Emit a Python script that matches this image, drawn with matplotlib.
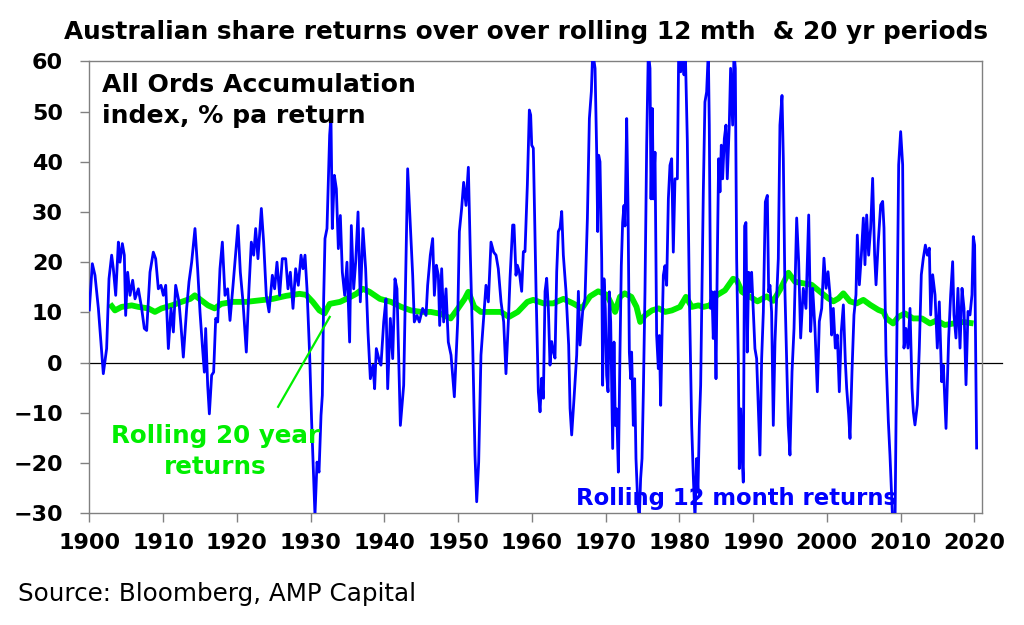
import matplotlib
matplotlib.use("Agg")
import matplotlib.pyplot as plt
import numpy as np

plt.rcParams['font.family'] = ['DejaVu Sans']

# ---------------- Data ----------------
# Rolling 12 month returns (% pa), grouped by period
m12_years_a = [1900.0, 1900.41, 1900.77, 1901.23, 1901.90, 1902.35, 1902.67, 1903.03, 1903.26, 1903.58,
               1903.94, 1904.16, 1904.48, 1904.75, 1904.93, 1905.20, 1905.52, 1905.88, 1906.20, 1906.65,
               1907.10, 1907.46, 1907.78, 1908.23, 1908.68, 1909.00, 1909.36, 1909.72, 1910.04, 1910.36,
               1910.72, 1911.08, 1911.40, 1911.71, 1912.16, 1912.43, 1912.75, 1913.20, 1913.52, 1913.88,
               1914.33, 1914.69, 1915.01, 1915.33, 1915.60, 1915.78, 1916.05, 1916.28, 1916.59, 1916.86,
               1917.14, 1917.41, 1917.72, 1918.04, 1918.40, 1918.76, 1919.08]
m12_vals_a = [10.5, 19.7, 17.4, 10.8, -2.2, 2.8, 16.7, 21.4, 18.7, 13.4,
              24.0, 20.0, 23.7, 21.4, 9.4, 18.0, 13.4, 16.4, 12.7, 14.7,
              10.8, 6.8, 6.4, 18.0, 22.0, 20.7, 14.7, 15.4, 13.4, 15.4,
              2.8, 10.8, 6.1, 15.4, 12.1, 7.4, 1.1, 10.8, 16.1, 20.0,
              26.7, 18.7, 10.1, 3.4, -1.9, 6.8, -4.5, -10.2, -2.5, -1.9,
              8.8, 8.1, 18.7, 24.0, 13.4, 14.7, 8.4]

m12_years_b = [1919.49, 1920.16, 1920.48, 1920.84, 1921.29, 1921.65, 1921.97, 1922.29, 1922.56, 1922.87,
               1923.33, 1923.64, 1924.00, 1924.37, 1924.82, 1925.13, 1925.45, 1925.81, 1926.17, 1926.63,
               1926.94, 1927.26, 1927.62, 1927.98, 1928.34, 1928.71, 1928.98, 1929.25, 1929.52, 1929.88,
               1930.15, 1930.42, 1930.60, 1930.88, 1931.15, 1931.42, 1931.60, 1931.78, 1931.96, 1932.23,
               1932.59, 1932.77, 1932.95, 1933.23, 1933.50, 1933.77, 1934.04, 1934.31, 1934.63, 1934.94,
               1935.30, 1935.53, 1935.85, 1936.12, 1936.44, 1936.75, 1937.11, 1937.47, 1937.79, 1938.11,
               1938.47, 1938.69, 1938.92, 1939.37]
m12_vals_b = [15.4, 27.3, 18.0, 12.1, 2.1, 14.7, 24.0, 21.4, 26.7, 20.7,
              30.7, 24.0, 13.4, 10.1, 17.4, 14.7, 20.0, 13.4, 20.7, 20.7,
              14.7, 18.0, 10.8, 18.7, 15.4, 21.4, 18.7, 21.4, 14.7, 1.5,
              -11.8, -23.1, -30.4, -19.8, -21.8, -10.5, -6.5, 12.7, 24.7, 26.7,
              45.3, 48.9, 26.7, 37.3, 34.6, 22.7, 29.3, 18.0, 13.4, 20.0,
              4.1, 27.3, 14.7, 20.0, 30.0, 12.1, 26.7, 18.7, 6.1, -3.2,
              -0.5, -5.2, 2.8, 0.1]

m12_years_c = [1939.55, 1939.92, 1940.23, 1940.46, 1940.82, 1941.14, 1941.45, 1941.72, 1942.18, 1942.63,
               1943.17, 1943.44, 1943.85, 1944.07, 1944.44, 1944.75, 1945.20, 1945.66, 1945.88, 1946.24,
               1946.56, 1946.79, 1947.06, 1947.33, 1947.51, 1947.78, 1948.05, 1948.37, 1948.68, 1949.05,
               1949.50, 1949.95, 1950.18, 1950.49, 1950.76, 1951.08, 1951.40, 1951.67, 1951.98, 1952.30,
               1952.53, 1952.80, 1953.11, 1953.47, 1953.79, 1954.11, 1954.47, 1954.83, 1955.15, 1955.46,
               1955.83, 1956.19, 1956.50, 1956.82]
m12_vals_c = [-0.5, 8.1, 12.7, -5.2, 8.8, 0.8, 16.7, 14.7, -12.5, -4.5,
              38.6, 30.0, 17.4, 8.1, 9.4, 8.1, 10.8, 9.4, 15.4, 21.4,
              24.7, 13.4, 19.4, 17.4, 7.4, 18.7, 8.1, 14.7, 4.1, 1.5,
              -6.8, 8.1, 26.1, 30.7, 35.9, 31.3, 38.9, 21.4, 4.1, -18.4,
              -27.7, -19.8, 1.5, 8.8, 15.4, 12.1, 24.0, 22.0, 21.4, 18.7,
              12.1, 8.1, -2.2, 8.1]

m12_years_d = [1957.05, 1957.41, 1957.59, 1957.86, 1958.04, 1958.31, 1958.63, 1958.86, 1959.08, 1959.40,
               1959.67, 1959.85, 1959.99, 1960.21, 1960.58, 1960.89, 1961.12, 1961.34, 1961.57, 1961.80,
               1962.02, 1962.25, 1962.47, 1962.70, 1962.93, 1963.15, 1963.38, 1963.60, 1963.83, 1964.06,
               1964.28, 1964.64, 1965.00, 1965.19, 1965.41, 1965.73, 1966.09, 1966.32, 1966.54, 1966.90,
               1967.22, 1967.54, 1967.81, 1968.08, 1968.26, 1968.58, 1968.80, 1968.94, 1969.07]
m12_vals_d = [16.8, 27.4, 27.4, 17.4, 19.4, 18.1, 14.2, 22.1, 22.1, 35.4,
              50.3, 49.3, 43.3, 42.7, 14.2, -5.8, -9.8, -3.1, -7.1, 14.2,
              16.8, 10.8, -0.5, 4.2, 2.2, 0.9, 18.1, 26.1, 26.8, 30.1,
              21.4, 14.2, 3.5, -9.1, -14.4, -7.1, 1.5, 14.2, 3.5, 10.2,
              12.8, 28.7, 48.6, 54.0, 62.0, 58.6, 42.0, 26.1, 41.3]

m12_years_e = [1969.25, 1969.48, 1969.61, 1969.79, 1969.97, 1970.15, 1970.34, 1970.52, 1970.70, 1970.97,
               1971.15, 1971.33, 1971.51, 1971.74, 1971.96, 1972.14, 1972.32, 1972.50, 1972.64, 1972.87,
               1973.05, 1973.23, 1973.41, 1973.54, 1973.77, 1973.95, 1974.13, 1974.36, 1974.58, 1974.76,
               1974.95, 1975.13, 1975.35, 1975.58, 1975.80, 1976.03, 1976.17, 1976.35, 1976.48, 1976.71,
               1976.93, 1977.16, 1977.30, 1977.48, 1977.66, 1977.84, 1978.06, 1978.29, 1978.52, 1978.74,
               1978.97, 1979.19, 1979.42, 1979.74, 1979.92, 1980.19, 1980.46, 1980.64, 1980.82, 1981.09,
               1981.36]
m12_vals_e = [40.0, 20.7, -4.5, 16.7, 10.8, -2.5, -5.8, 14.1, 8.1, -17.1,
              4.1, -12.5, -9.2, -21.8, 2.1, 19.3, 27.9, 31.3, 27.2, 48.6,
              31.3, 2.1, -3.2, 2.1, -12.5, -3.2, -19.1, -27.7, -31.0, -23.1,
              -19.1, -5.8, 14.1, 43.3, 62.0, 58.6, 32.6, 50.6, 32.6, 41.9,
              5.5, -1.2, 5.4, -8.5, 5.4, 17.4, 19.3, 15.4, 32.6, 39.3,
              40.6, 22.0, 36.6, 36.6, 62.0, 57.9, 62.0, 57.3, 62.0, 44.3,
              14.1]

m12_years_f = [1981.68, 1981.90, 1982.13, 1982.35, 1982.53, 1982.72, 1982.90, 1983.08, 1983.26, 1983.48,
               1983.71, 1983.94, 1984.07, 1984.25, 1984.43, 1984.61, 1984.80, 1984.98, 1985.16, 1985.34,
               1985.52, 1985.70, 1985.88, 1986.11, 1986.33, 1986.51, 1986.78, 1986.96, 1987.24, 1987.42,
               1987.60, 1987.78, 1988.00, 1988.14, 1988.32, 1988.50, 1988.68, 1988.86, 1989.04, 1989.22,
               1989.41, 1989.59, 1989.81, 1990.04, 1990.26, 1990.49, 1990.72, 1990.94, 1991.17, 1991.40,
               1991.67, 1991.94, 1992.12, 1992.30, 1992.52, 1992.75, 1992.98, 1993.20, 1993.43, 1993.65,
               1993.93, 1994.11, 1994.33, 1994.56, 1994.78]
m12_vals_f = [-12.5, -22.5, -31.1, -19.1, -25.8, -12.5, -4.5, 14.1, 34.0, 51.9,
              53.9, 62.0, 47.3, 10.8, 14.1, 4.8, 14.1, -3.2, 20.7, 40.6,
              34.0, 43.3, 36.6, 44.6, 47.3, 36.6, 47.3, 58.6, 47.3, 62.0,
              58.6, 20.7, 0.8, -21.1, -9.2, -17.8, -23.8, 27.2, 27.9, 2.1,
              18.0, 14.1, 18.0, 10.1, 2.8, 0.8, -9.2, -18.4, 0.8, 10.1,
              32.0, 33.3, 14.1, 15.4, 10.1, -12.5, 4.1, 12.8, 20.7, 47.3,
              53.2, 40.6, 14.1, 0.8, -12.5]

m12_years_g = [1995.01, 1995.29, 1995.56, 1995.92, 1996.19, 1996.46, 1996.82, 1997.18, 1997.55, 1997.82,
               1998.09, 1998.40, 1998.72, 1998.99, 1999.31, 1999.62, 1999.90, 2000.17, 2000.44, 2000.66,
               2000.89, 2001.16, 2001.43, 2001.70, 2001.97, 2002.25, 2002.52, 2002.70, 2002.97, 2003.15,
               2003.42, 2003.69, 2003.96, 2004.14, 2004.42, 2004.69, 2004.96, 2005.18, 2005.41, 2005.68,
               2005.95, 2006.22, 2006.49, 2006.68, 2006.99, 2007.31, 2007.58, 2007.76, 2008.03, 2008.35,
               2008.57, 2008.94, 2009.25, 2009.48, 2009.75, 2010.02, 2010.29, 2010.47, 2010.74, 2011.01,
               2011.29, 2011.56, 2011.74, 2011.96, 2012.28, 2012.55, 2012.82, 2013.09, 2013.37, 2013.64,
               2013.91, 2014.09, 2014.36, 2014.68, 2014.99, 2015.26, 2015.58, 2015.81, 2016.17, 2016.53,
               2016.80, 2017.07, 2017.25, 2017.52, 2017.79, 2018.07, 2018.34, 2018.61, 2018.88, 2019.15,
               2019.42, 2019.69, 2019.87, 2020.05, 2020.32]
m12_vals_g = [-18.4, -1.8, 6.8, 28.8, 20.1, 4.9, 14.8, 10.8, 29.4, 6.2,
              14.8, 6.8, -5.8, 8.2, 10.8, 20.8, 14.8, 18.1, 13.5, 5.5,
              10.8, 2.9, 5.5, -5.8, 6.2, 11.5, 0.2, -5.1, -10.4, -15.1,
              -1.8, 9.5, 13.5, 25.4, 15.5, 21.4, 28.8, 19.5, 29.4, 21.4,
              26.8, 36.7, 21.4, 15.5, 24.1, 31.4, 32.1, 26.8, 1.5, -11.7,
              -18.4, -31.7, -33.0, 1.5, 39.4, 46.0, 39.4, 2.9, 6.8, 2.9,
              10.8, -5.1, -9.8, -12.4, -8.4, 2.9, 17.5, 20.8, 23.4, 21.4,
              22.8, 9.5, 17.5, 13.5, 2.9, 12.1, -3.8, -0.5, -13.1, 4.9,
              13.5, 20.1, 9.5, 4.9, 14.8, 2.9, 14.8, 10.8, -4.4, 10.2,
              9.5, 13.5, 25.1, 23.4, -17.0]

# Rolling 20 year returns (% pa)
y20_years = [1902.81, 1903.48, 1904.39, 1905.75, 1906.65, 1908.0, 1908.9, 1909.8, 1911.2, 1912.5,
             1913.7, 1914.3, 1915.2, 1916.1, 1917.0, 1917.9, 1919.5, 1921.3, 1923.1, 1924.9,
             1926.7, 1928.5, 1929.4, 1930.3, 1931.2, 1931.9, 1932.6, 1934.0, 1935.3, 1936.2,
             1937.1, 1938.0, 1939.4, 1940.9, 1942.3, 1943.6, 1945.0, 1946.3, 1947.7, 1949.0,
             1950.0, 1950.9, 1951.4, 1952.2, 1953.1, 1954.5, 1955.8, 1956.9, 1958.1, 1959.4,
             1960.2, 1961.6, 1962.9, 1964.3, 1965.6, 1966.8, 1967.9, 1969.0, 1970.2, 1971.3,
             1971.96, 1972.6, 1973.5, 1974.2, 1974.7, 1975.35, 1976.3, 1977.2, 1978.1, 1979.0,
             1980.1, 1980.9, 1981.7, 1982.6, 1983.26, 1984.16, 1985.07, 1986.2, 1987.3, 1987.8,
             1988.5, 1989.6, 1990.6, 1991.85, 1992.75, 1993.66, 1994.8, 1995.7, 1996.8, 1997.95,
             1999.1, 2000.2, 2000.9, 2001.6, 2002.25, 2003.15, 2004.05, 2004.96, 2005.9, 2007.0,
             2007.7, 2008.1, 2009.0, 2009.7, 2010.6, 2011.7, 2012.9, 2014.0, 2014.9, 2016.0,
             2017.2, 2018.5, 2019.9]
y20_vals = [11.7, 10.4, 11.1, 11.4, 11.1, 10.8, 10.1, 10.8, 11.4, 12.1,
            12.7, 13.4, 12.4, 11.4, 10.8, 11.7, 12.1, 12.1, 12.4, 12.7,
            13.3, 13.7, 13.5, 12.1, 10.4, 9.8, 11.7, 12.1, 13.0, 13.7,
            14.7, 14.1, 12.7, 12.1, 11.1, 10.4, 10.1, 10.1, 9.7, 8.8,
            10.8, 12.7, 14.1, 11.1, 10.1, 10.1, 10.1, 9.1, 10.1, 12.1,
            12.5, 11.8, 11.8, 12.7, 11.8, 10.8, 13.2, 14.2, 13.5, 10.1,
            13.1, 13.8, 13.1, 11.1, 8.1, 9.4, 10.4, 10.8, 10.1, 10.4,
            11.1, 13.1, 11.1, 11.4, 11.1, 11.4, 13.4, 14.4, 16.7, 16.4,
            14.1, 13.1, 12.2, 13.2, 12.3, 14.5, 17.9, 16.1, 15.8, 15.5,
            14.1, 12.8, 12.2, 12.8, 13.8, 12.2, 11.8, 12.5, 11.5, 10.5,
            10.1, 8.8, 7.8, 9.1, 9.8, 8.8, 8.8, 7.8, 8.4, 7.5,
            7.8, 8.1, 7.8]

x_ticks = list(range(1900, 2021, 10))
y_ticks = list(range(-30, 61, 10))

title = "Australian share returns over over rolling 12 mth  & 20 yr periods"

# ---------------- Plot ----------------
BLUE = '#0000FF'
GREEN = '#00EE00'
GREY = '#808080'

m12_years = np.concatenate([m12_years_a, m12_years_b, m12_years_c, m12_years_d,
                            m12_years_e, m12_years_f, m12_years_g])
m12_vals = np.concatenate([m12_vals_a, m12_vals_b, m12_vals_c, m12_vals_d,
                           m12_vals_e, m12_vals_f, m12_vals_g])

fig = plt.figure(figsize=(10.24, 6.25), dpi=100)
ax = fig.add_axes([89.3 / 1024, 1 - 513.3 / 625, (982 - 89.3) / 1024, (513.3 - 61.3) / 625])

ax.plot(y20_years, y20_vals, color=GREEN, lw=4.2, solid_capstyle='butt', zorder=3)
ax.plot(m12_years, m12_vals, color=BLUE, lw=2.0, zorder=4)

ax.set_xlim(1900, 2021.05)
ax.set_ylim(-30, 60)
ax.set_xticks(x_ticks)
ax.set_yticks(y_ticks)

for s in ax.spines.values():
    s.set_color(GREY)
    s.set_linewidth(1.0)

ax.tick_params(axis='both', direction='out', length=6.5, width=1.0, color=GREY,
               labelsize=16)
ax.tick_params(axis='x', pad=7.5)
ax.tick_params(axis='y', pad=12.5)
for lab in ax.get_xticklabels() + ax.get_yticklabels():
    lab.set_fontweight('bold')

# zero line extending slightly past the plot frame
ax.plot([0, 1.0224], [0, 0], transform=ax.get_yaxis_transform(), color='black',
        lw=0.9, clip_on=False, zorder=2)

# pointer from label to the 20 year line
ax.plot([1925.6, 1932.6], [-8.8, 9.1], color=GREEN, lw=1.6, zorder=5)

# texts
fig.text(526 / 1024, 1 - 39.3 / 625, title, ha='center', va='baseline',
         fontsize=17.85, fontweight='bold', color='black')
fig.text(101.7 / 1024, 1 - 91.7 / 625, "All Ords Accumulation", ha='left', va='baseline',
         fontsize=18.1, fontweight='bold', color='black')
fig.text(101.7 / 1024, 1 - 123.3 / 625, "index, % pa return", ha='left', va='baseline',
         fontsize=18.1, fontweight='bold', color='black')
fig.text(215.5 / 1024, 1 - 443.5 / 625, "Rolling 20 year", ha='center', va='baseline',
         fontsize=17.7, fontweight='bold', color=GREEN)
fig.text(215.5 / 1024, 1 - 473.5 / 625, "returns", ha='center', va='baseline',
         fontsize=17.7, fontweight='bold', color=GREEN)
fig.text(737 / 1024, 1 - 505 / 625, "Rolling 12 month returns", ha='center', va='baseline',
         fontsize=16.4, fontweight='bold', color=BLUE)
fig.text(18 / 1024, 1 - 601 / 625, "Source: Bloomberg, AMP Capital", ha='left', va='baseline',
         fontsize=17.7, color='black')

fig.savefig('out.png', dpi=100)
